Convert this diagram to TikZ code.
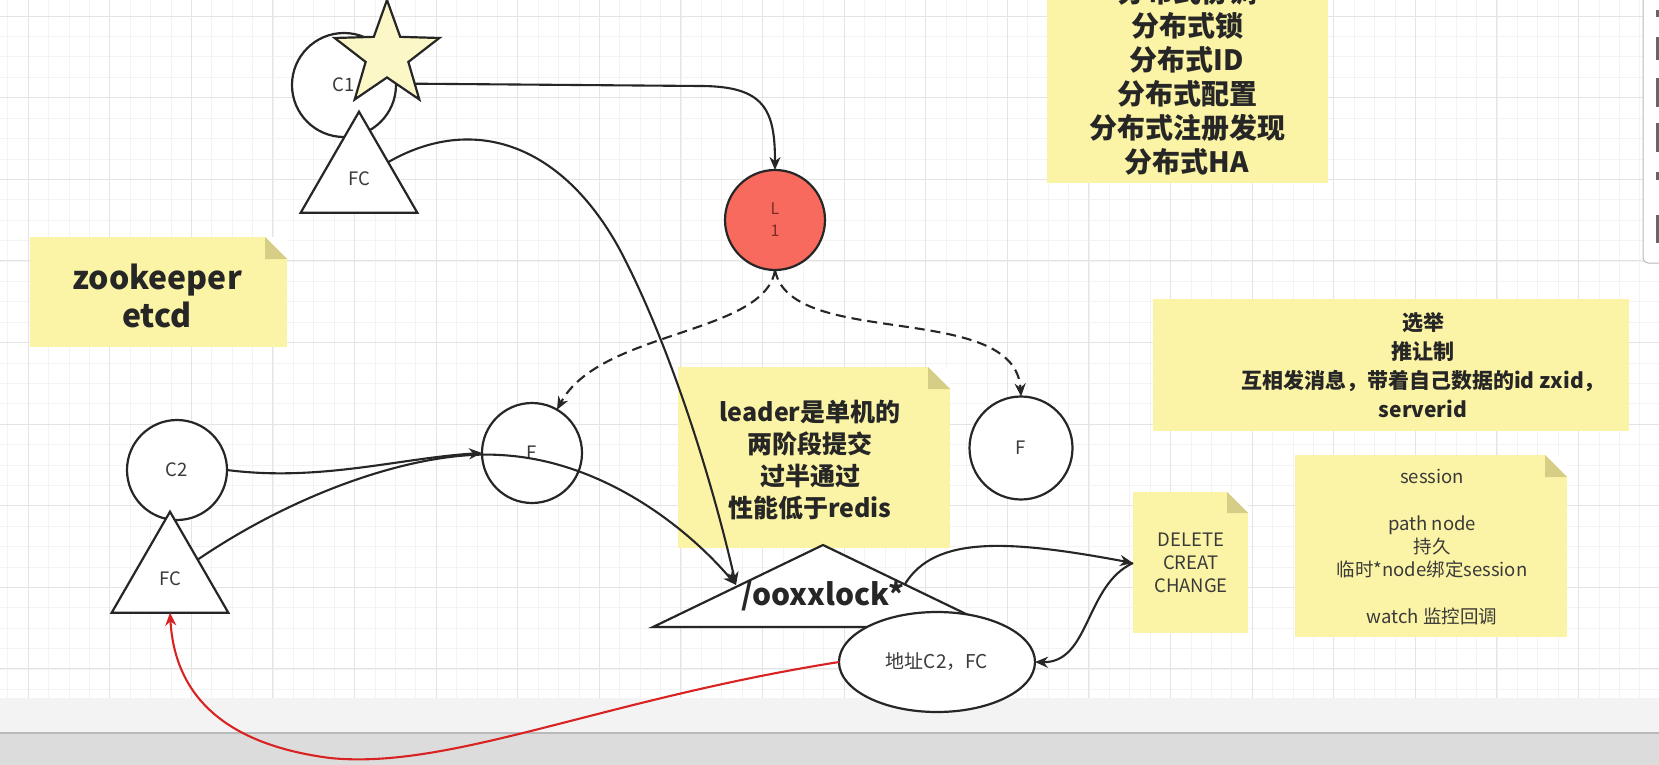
\documentclass[tikz,border=0pt]{standalone}
\usepackage{fontspec}
\setmainfont{Noto Sans CJK SC}
\usetikzlibrary{shapes.geometric,arrows.meta}
\definecolor{noteY}{HTML}{FBF4A6}
\definecolor{noteF}{HTML}{D6CE86}
\definecolor{gridMin}{HTML}{F3F3F3}
\definecolor{gridMaj}{HTML}{E4E4E4}
\definecolor{ink}{HTML}{262626}
\definecolor{txt}{HTML}{3A3A3A}
\definecolor{leaderR}{HTML}{F76A5D}
\definecolor{leaderT}{HTML}{7A2E26}
\definecolor{starY}{HTML}{FCF7C6}
\definecolor{redL}{HTML}{D92323}
\definecolor{bandA}{HTML}{F3F3F3}
\definecolor{bandB}{HTML}{DCDCDC}
\newcommand{\snote}[6]{%
  \node[notebg, anchor=north west, minimum width={#4-#2}, minimum height={#5-#3}] (#1) at (#2,#3) {};
  \fill[white] (#1.north east) ++(-#6,0) -- ++(#6,0) -- ++(0,#6) -- cycle;
  \fill[noteF] (#1.north east) ++(-#6,0) -- ++(0,#6) -- ++(#6,0) -- cycle;
}
\begin{document}
\begin{tikzpicture}[x=1pt,y=-1pt,
  shp/.style={draw=ink, line width=2.2pt, fill=white, inner sep=0pt, outer sep=0pt, text=txt, font=\fontsize{18.5}{22}\selectfont},
  rnd/.style={shp, circle, minimum size=#1},
  tri/.style={shp, regular polygon, regular polygon sides=3, minimum size=134.6pt},
  notebg/.style={fill=noteY, draw=none, inner sep=0pt, outer sep=0pt},
  boldtxt/.style 2 args={text=ink, align=center, font=\bfseries\fontsize{#1}{#2}\selectfont},
  regtxt/.style={text=txt, align=center, font=\fontsize{18.5}{23.3}\selectfont},
  conn/.style={draw=ink, line width=2.1pt, -{Stealth[length=13pt,width=11pt]}},
  dconn/.style={conn, dash pattern=on 10pt off 6pt},
  redconn/.style={draw=redL, line width=2.1pt, -{Stealth[length=13pt,width=11pt]}},
]
\useasboundingbox (0,0) rectangle (1659,765);
\clip (0,0) rectangle (1659,765);
% background and grid
\fill[white] (0,0) rectangle (1659,765);
\foreach \i in {0,...,82} {\draw[gridMin, line width=0.6pt] ({7.6+20.4*\i},0) -- ({7.6+20.4*\i},698);}
\foreach \j in {0,...,34} {\draw[gridMin, line width=0.6pt] (0,{16+20.4*\j}) -- (1659,{16+20.4*\j});}
\foreach \i in {0,...,20} {\draw[gridMaj, line width=0.8pt] ({28+81.6*\i},0) -- ({28+81.6*\i},698);}
\foreach \j in {0,...,8} {\draw[gridMaj, line width=0.8pt] (0,{16+81.6*\j}) -- (1659,{16+81.6*\j});}
\fill[bandA] (0,698) rectangle (1659,733);
\fill[bandB] (0,733) rectangle (1659,765);
\draw[gray!55, line width=1.5pt] (0,733) -- (1659,733);
% right panel edge
\draw[draw=gray!55, line width=1pt, fill=white, rounded corners=5pt] (1643,-10) rectangle (1690,263);
\fill[gray!80!black] (1656,10) rectangle (1659,17);
\fill[gray!80!black] (1656,37) rectangle (1659,60);
\fill[gray!80!black] (1656,78) rectangle (1659,107);
\fill[gray!80!black] (1656,123) rectangle (1659,152);
\fill[gray!80!black] (1656,172) rectangle (1659,180);
\fill[gray!80!black] (1656,215) rectangle (1659,243);

% sticky notes
\snote{nTop}{1047}{-40}{1328}{183}{0}
\node[boldtxt={28}{34}] (tTop) at (1187,77) {分布式协调\\分布式锁\\分布式ID\\分布式配置\\分布式注册发现\\分布式HA};
\snote{nZk}{30}{237}{287}{347}{22}
\node[boldtxt={32}{38}] (tZk) at (157,296) {zookeeper\\etcd};
\snote{nSel}{1153}{299}{1629}{431}{0}
\node[boldtxt={21}{29}] (tSel) at (1423,365) {选举\\推让制\\互相发消息，带着自己数据的id zxid，\\serverid};
\snote{nLead}{678}{367}{950}{548}{22}
\node[boldtxt={25}{32}] (tLead) at (810,460) {leader是单机的\\两阶段提交\\过半通过\\性能低于redis};
\snote{nDel}{1133}{492}{1248}{633}{21}
\node[regtxt] (tDel) at (1191,563) {DELETE\\CREAT\\CHANGE};
\snote{nSes}{1295}{455}{1567}{637}{22}
\node[regtxt] (tSes) at (1432,547) {session\\\mbox{}\\path node\\持久\\临时*node绑定session\\\mbox{}\\watch 监控回调};

% shapes
\node[rnd=104pt] (C1) at (344,85) {C1};
\node[shp, star, star points=5, star point ratio=2.45, minimum size=110pt, fill=starY] (star) at (387,55) {};
\node[tri] (FC1) at (359,179) {FC};
\node[rnd=100pt, fill=leaderR, text=leaderT, align=center, font=\fontsize{16}{22}\selectfont] (L1) at (775,220) {L\\1};
\node[rnd=100pt] (F1) at (532,453) {F};
\node[rnd=103pt] (F2) at (1021,448) {F};
\node[rnd=100pt] (C2) at (177,470) {C2};
\node[tri] (FC2) at (170,579) {FC};
\draw[shp] (653,627) -- (823,545) -- (993,627) -- cycle;
\node[text=ink, font=\bfseries\fontsize{30}{36}\selectfont] (lock) at (823,596) {/ooxxlock*};
\coordinate (lockL) at (736,585);
\coordinate (lockR) at (905,584);
\coordinate (delW) at (1133,563);
\node[shp, ellipse, minimum width=196pt, minimum height=100pt, font=\fontsize{19}{22}\selectfont] (addr) at (937,662) {地址C2，FC};

% connectors
\draw[conn] (star.-46) -- (700,86) .. controls (765,86) and (775,110) .. (L1.north);
\draw[conn] (FC1.30) .. controls (470,115) and (560,140) .. (620,250) .. controls (670,345) and (712,480) .. (lockL);
\draw[conn] (FC2.35) .. controls (300,490) and (420,450) .. (500,455) .. controls (600,460) and (685,525) .. (lockL);
\draw[conn] (C2.east) .. controls (320,482) and (400,458) .. (F1.west);
\draw[dconn] (L1.south) .. controls (765,335) and (600,330) .. (F1.60);
\draw[dconn] (L1.south) .. controls (790,350) and (1015,300) .. (F2.north);
\draw[conn] (lockR) .. controls (935,535) and (1010,540) .. (delW);
\draw[conn] (delW) .. controls (1085,585) and (1090,663) .. (addr.east);
\draw[redconn] (addr.west) .. controls (600,700) and (450,770) .. (330,758) .. controls (230,745) and (175,700) .. (FC2.south);
\end{tikzpicture}
\end{document}
